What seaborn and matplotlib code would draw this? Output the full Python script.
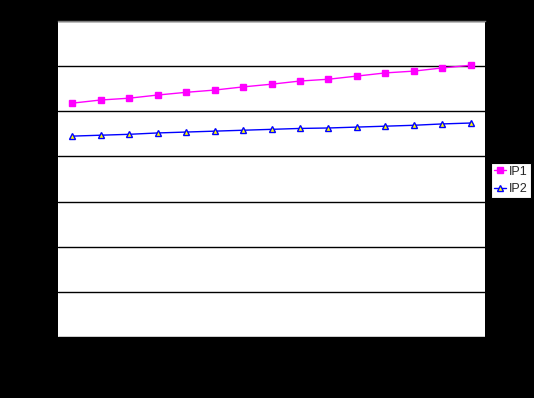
import matplotlib
matplotlib.use("Agg")
import matplotlib.pyplot as plt
import seaborn as sns
import pandas as pd
import numpy as np

categories = [str(i) for i in range(1, 16)]
ip1 = [5.18, 5.25, 5.29, 5.36, 5.42, 5.47, 5.54, 5.60, 5.67, 5.71, 5.78, 5.85, 5.89, 5.96, 6.02]
ip2 = [4.45, 4.47, 4.49, 4.52, 4.54, 4.56, 4.58, 4.60, 4.62, 4.63, 4.65, 4.67, 4.69, 4.72, 4.74]
series_names = ["IP1", "IP2"]
y_ticks = [0, 1, 2, 3, 4, 5, 6, 7]

df = pd.DataFrame({
    "pos": list(range(len(categories))) * 2,
    "value": ip1 + ip2,
    "series": [series_names[0]] * len(ip1) + [series_names[1]] * len(ip2),
})

sns.set_style("white")
plt.rcParams['font.family'] = ['Liberation Sans', 'DejaVu Sans']

fig = plt.figure(figsize=(5.34, 3.98), dpi=100, facecolor="black")
ax = fig.add_axes([58 / 534, 1 - 337 / 398, 427 / 534, 316 / 398])
ax.set_facecolor("white")

styles = {
    "IP1": dict(color="#FF00FF", marker="s", markersize=5, markerfacecolor="#FF00FF", markeredgecolor="#FF00FF"),
    "IP2": dict(color="#0000FF", marker="^", markersize=4.5, markerfacecolor="#FFFF00", markeredgecolor="#0000FF"),
}
for name in series_names:
    sub = df[df["series"] == name]
    st = styles[name]
    sns.lineplot(data=sub, x="pos", y="value", ax=ax, color=st["color"], linewidth=1.0,
                 marker=st["marker"], markersize=st["markersize"],
                 markerfacecolor=st["markerfacecolor"], markeredgecolor=st["markeredgecolor"],
                 markeredgewidth=1, label=name)

ax.set_xlim(-0.5, len(categories) - 0.5)
ax.set_ylim(y_ticks[0], y_ticks[-1])
ax.set_yticks(y_ticks)
ax.set_xticks(range(len(categories)))
ax.set_xticklabels(categories, color="black", fontsize=8)
ax.set_yticklabels([str(t) for t in y_ticks], color="black", fontsize=8)
ax.tick_params(length=0)
ax.yaxis.grid(True, color="black", linewidth=1)
ax.xaxis.grid(False)
ax.set_axisbelow(True)
ax.set_xlabel("")
ax.set_ylabel("")
for s in ["left", "right", "bottom"]:
    ax.spines[s].set_visible(False)
ax.spines["top"].set_color("#808080")
ax.spines["top"].set_linewidth(1)

ax.get_legend().remove()
h, l = ax.get_legend_handles_labels()
leg = fig.legend(h, l, loc="upper left", bbox_to_anchor=(491 / 534, 1 - 163 / 398), frameon=True,
                 fancybox=False, edgecolor="black", facecolor="white", framealpha=1,
                 fontsize=9, handlelength=1.0, handletextpad=0.25, borderpad=0.22,
                 labelspacing=0.45, borderaxespad=0)
leg.get_frame().set_linewidth(0.8)

fig.savefig("out.png", dpi=100, facecolor="black")
